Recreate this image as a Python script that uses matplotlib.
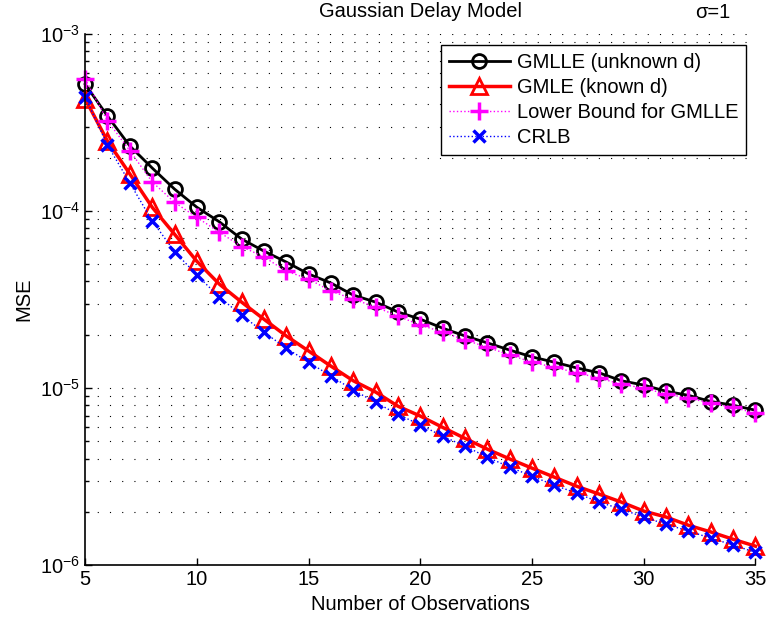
import numpy as np
import matplotlib
matplotlib.use("Agg")
import matplotlib.pyplot as plt
from matplotlib.ticker import LogLocator, NullFormatter

plt.rcParams['font.family'] = ['Liberation Sans', 'DejaVu Sans']
plt.rcParams['mathtext.default'] = 'regular'

# number of observations
n_obs = np.arange(5, 36)

# MSE curves
gmlle_unknown = [5.2e-4, 3.44e-4, 2.33e-4, 1.75e-4, 1.33e-4, 1.05e-4, 8.7e-5, 6.95e-5,
                 5.94e-5, 5.15e-5, 4.41e-5, 3.92e-5, 3.35e-5, 3.06e-5, 2.69e-5, 2.45e-5,
                 2.18e-5, 1.97e-5, 1.80e-5, 1.64e-5, 1.50e-5, 1.40e-5, 1.30e-5, 1.22e-5,
                 1.10e-5, 1.04e-5, 9.6e-6, 9.1e-6, 8.4e-6, 8.0e-6, 7.5e-6]
gmle_known = [4.3e-4, 2.48e-4, 1.62e-4, 1.05e-4, 7.4e-5, 5.2e-5, 3.87e-5, 3.06e-5,
              2.45e-5, 1.97e-5, 1.62e-5, 1.33e-5, 1.10e-5, 9.5e-6, 7.9e-6, 6.95e-6,
              6.0e-6, 5.2e-6, 4.52e-6, 3.98e-6, 3.53e-6, 3.14e-6, 2.79e-6, 2.52e-6,
              2.27e-6, 2.02e-6, 1.87e-6, 1.68e-6, 1.54e-6, 1.40e-6, 1.28e-6]
lower_bound = [5.57e-4, 3.23e-4, 2.19e-4, 1.46e-4, 1.12e-4, 9.2e-5, 7.6e-5, 6.3e-5,
               5.5e-5, 4.58e-5, 4.13e-5, 3.53e-5, 3.18e-5, 2.87e-5, 2.55e-5, 2.27e-5,
               2.07e-5, 1.87e-5, 1.70e-5, 1.54e-5, 1.40e-5, 1.31e-5, 1.22e-5, 1.14e-5,
               1.05e-5, 1.0e-5, 9.25e-6, 8.8e-6, 8.2e-6, 7.8e-6, 7.2e-6]
crlb = [4.4e-4, 2.36e-4, 1.44e-4, 8.8e-5, 5.9e-5, 4.35e-5, 3.27e-5, 2.58e-5,
        2.07e-5, 1.68e-5, 1.40e-5, 1.17e-5, 9.75e-6, 8.3e-6, 7.1e-6, 6.2e-6,
        5.35e-6, 4.7e-6, 4.07e-6, 3.58e-6, 3.18e-6, 2.83e-6, 2.55e-6, 2.27e-6,
        2.07e-6, 1.87e-6, 1.70e-6, 1.56e-6, 1.42e-6, 1.30e-6, 1.18e-6]

fig = plt.figure(figsize=(7.67, 6.17), dpi=100)
ax = fig.add_axes([0.111, 0.084, 0.874, 0.861])

ax.semilogy(n_obs, gmlle_unknown, color='black', lw=2, marker='o', ms=10,
            mfc='none', mew=2, label='GMLLE (unknown d)', clip_on=False)
ax.semilogy(n_obs, gmle_known, color='red', lw=2.5, marker='^', ms=11,
            mfc='none', mew=2, label='GMLE (known d)', clip_on=False)
ax.semilogy(n_obs, lower_bound, color='magenta', lw=1, ls=':', marker='+', ms=13,
            mew=2.5, label='Lower Bound for GMLLE', clip_on=False)
ax.semilogy(n_obs, crlb, color='blue', lw=1, ls=':', marker='x', ms=9,
            mew=2.5, label='CRLB', clip_on=False)

ax.set_xlim(5, 35)
ax.set_ylim(1e-6, 1e-3)
ax.set_xticks(range(5, 36, 5))
ax.yaxis.set_minor_locator(LogLocator(base=10, subs=np.arange(2, 10)))
ax.yaxis.set_minor_formatter(NullFormatter())
ax.tick_params(which='both', direction='in', labelsize=14.5, width=1)
ax.tick_params(which='major', length=5)
ax.tick_params(which='minor', length=3)

# dotted horizontal grid only
ax.grid(True, which='both', axis='y', ls=(0, (1, 10)), color='black', lw=0.8)

ax.spines['top'].set_visible(False)
ax.spines['right'].set_visible(False)
ax.spines['left'].set_linewidth(1.2)
ax.spines['bottom'].set_linewidth(1.2)

ax.set_xlabel('Number of Observations', fontsize=14.5, labelpad=4)
ax.set_ylabel('MSE', fontsize=14.5, labelpad=5)
ax.set_title('Gaussian Delay Model', fontsize=14.5, pad=12)
ax.text(0.936, 1.03, 'σ=1', transform=ax.transAxes, fontsize=14.5, ha='center')

leg = ax.legend(loc='upper right', bbox_to_anchor=(0.986, 0.98), fontsize=14.5,
                fancybox=False, framealpha=1, edgecolor='black',
                borderpad=0.4, labelspacing=0.3, handlelength=3.0,
                handletextpad=0.35, borderaxespad=0)
leg.get_frame().set_linewidth(1)

fig.savefig('out.png', dpi=100)
